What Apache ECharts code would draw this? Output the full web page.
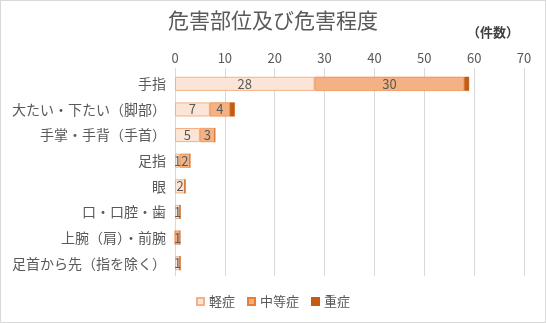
<!DOCTYPE html>
<html><head><meta charset="utf-8">
<script src="https://cdn.jsdelivr.net/npm/echarts@6/dist/echarts.min.js"></script>
<style>html,body{margin:0;padding:0;background:#fff}#c{width:544px;height:321px;border:1px solid #d9d9d9}</style>
</head><body><div id="c"></div>
<script>
const categories = ['手指','大たい・下たい（脚部）','手掌・手背（手首）','足指','眼','口・口腔・歯','上腕（肩）・前腕','足首から先（指を除く）'];
const mild = [28,7,5,1,2,1,0,1];
const moderate = [30,4,3,2,0,0,1,0];
const severe = [1,1,0,0,0,0,0,0];
const ticks = [0,10,20,30,40,50,60,70];
const FONT = '"Noto Sans CJK JP", sans-serif';
const chart = echarts.init(document.getElementById('c'));
function lbl(show){return {show:show,position:'inside',color:'#595959',fontSize:13,fontFamily:FONT,formatter:p=>p.value>0?p.value:''};}
chart.setOption({
  animation:false,
  textStyle:{fontFamily:FONT},
  title:{text:'危害部位及び危害程度',left:'center',top:4,textStyle:{fontSize:21,fontWeight:'normal',color:'#595959',fontFamily:FONT}},
  graphic:[{type:'text',left:466,top:25,style:{text:'（件数）',fontSize:13,fontWeight:'bold',fill:'#404040',fontFamily:FONT}}],
  legend:{bottom:9,left:'center',itemWidth:7,itemHeight:7,itemGap:12,icon:'rect',textStyle:{color:'#595959',fontSize:13,fontFamily:FONT},data:['軽症','中等症','重症']},
  grid:{left:174,right:21,top:70,bottom:46,containLabel:false},
  xAxis:{type:'value',position:'top',min:0,max:70,interval:10,
    axisLabel:{color:'#595959',fontSize:13,margin:6,formatter:v=>ticks.includes(v)?String(v):''},
    axisLine:{show:false},axisTick:{show:true,length:3,lineStyle:{color:'#d9d9d9'}},
    splitLine:{lineStyle:{color:'#d9d9d9'}}},
  yAxis:{type:'category',inverse:true,data:categories,
    axisLabel:{color:'#595959',fontSize:14,margin:9},
    axisLine:{lineStyle:{color:'#d9d9d9'}},axisTick:{show:false}},
  series:[
    {name:'軽症',type:'bar',stack:'s',barWidth:'55%',data:mild,label:lbl(true),
     itemStyle:{color:'#FBE5D6',borderColor:'#F4B183',borderWidth:1}},
    {name:'中等症',type:'bar',stack:'s',data:moderate,label:lbl(true),
     itemStyle:{color:'#F4B183',borderColor:'#ED7D31',borderWidth:0.6}},
    {name:'重症',type:'bar',stack:'s',data:severe,label:{show:false},
     itemStyle:{color:'#C55A11',borderColor:'#C55A11',borderWidth:0.5}}
  ]
});
</script></body></html>
